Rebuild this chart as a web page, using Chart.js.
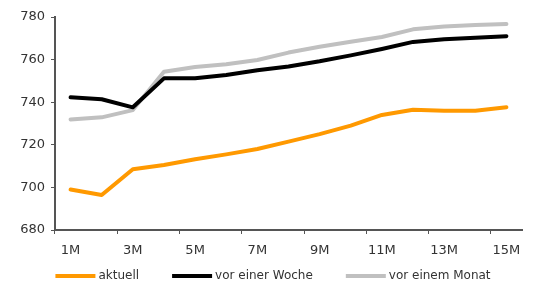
<!DOCTYPE html>
<html>
<head>
<meta charset="utf-8">
<script src="https://cdn.jsdelivr.net/npm/chart.js@4"></script>
<style>
  html, body { margin: 0; padding: 0; background: #fff; }
  #wrap { width: 542px; height: 287px; }
</style>
</head>
<body>
<div id="wrap"><canvas id="chart" width="542" height="287"></canvas></div>
<script>
// Laufzeiten (Monate)
var labels = ["1M", "2M", "3M", "4M", "5M", "6M", "7M", "8M", "9M", "10M", "11M", "12M", "13M", "14M", "15M"];

// Kurven
var aktuell = [699, 696.4, 708.5, 710.5, 713.2, 715.5, 718, 721.5, 725, 729, 734, 736.5, 736, 736, 737.6];
var vorEinerWoche = [742.3, 741.4, 737.6, 751.2, 751.2, 752.8, 755, 756.8, 759.2, 762, 765, 768.3, 769.5, 770.3, 771];
var vorEinemMonat = [731.9, 732.9, 736.3, 754.3, 756.5, 757.8, 759.8, 763.3, 766, 768.4, 770.6, 774.2, 775.5, 776.2, 776.7];

var yTicks = { min: 680, max: 780, step: 20 };

var axisColor = "#555";
var textColor = "#333";
var fontFamily = "DejaVu Sans, sans-serif";

// simple legend below the axis, items spread apart like the original
var bottomLegend = {
    id: "bottomLegend",
    afterDraw: function(chart) {
        var c = chart.ctx;
        var sets = chart.data.datasets;
        var boxW = 40, gap = 3, space = 33, y = 276;
        c.save();
        c.font = "12px " + fontFamily;
        var widths = sets.map(function(d) { return boxW + gap + c.measureText(d.label).width; });
        var total = widths.reduce(function(a, b) { return a + b; }, 0) + space * (sets.length - 1);
        var x = 273 - total / 2;
        sets.forEach(function(d, i) {
            c.fillStyle = d.borderColor;
            c.fillRect(x, y - 2, boxW, 4);
            c.fillStyle = textColor;
            c.textBaseline = "middle";
            c.textAlign = "left";
            c.fillText(d.label, x + boxW + gap, y);
            x += widths[i] + space;
        });
        c.restore();
    }
};

var ctx = document.getElementById("chart").getContext("2d");
var chart = new Chart(ctx, {
    type: "line",
    data: {
        labels: labels,
        datasets: [{
            label: "aktuell",
            data: aktuell,
            borderColor: "#FF9900"
        }, {
            label: "vor einer Woche",
            data: vorEinerWoche,
            borderColor: "#000000"
        }, {
            label: "vor einem Monat",
            data: vorEinemMonat,
            borderColor: "#C0C0C0"
        }]
    },
    options: {
        responsive: false,
        animation: false,
        layout: { padding: { top: 17, right: 20, left: 0, bottom: 27 } },
        elements: {
            line: { borderWidth: 4, tension: 0, fill: false, borderJoinStyle: "round", borderCapStyle: "round" },
            point: { radius: 0 }
        },
        plugins: {
            tooltip: { enabled: false },
            legend: { display: false }
        },
        scales: {
            x: {
                offset: true,
                grid: {
                    offset: true,
                    drawOnChartArea: false,
                    tickLength: 4,
                    color: function(c) { return c.index % 2 === 0 ? axisColor : "rgba(0,0,0,0)"; }
                },
                border: { color: axisColor, width: 2 },
                ticks: {
                    autoSkip: false,
                    maxRotation: 0,
                    padding: 9,
                    color: textColor,
                    font: { family: fontFamily, size: 13 },
                    callback: function(v, i) { return i % 2 === 0 ? labels[i] : ""; }
                },
                afterFit: function(s) { s.height = 30; }
            },
            y: {
                min: yTicks.min,
                max: yTicks.max,
                grid: { drawOnChartArea: false, tickLength: 4, color: axisColor },
                border: { color: axisColor, width: 2 },
                ticks: {
                    stepSize: yTicks.step,
                    padding: 6,
                    color: textColor,
                    font: { family: fontFamily, size: 13 }
                },
                afterFit: function(s) { s.width = 55; }
            }
        }
    },
    plugins: [bottomLegend]
});
</script>
</body>
</html>
